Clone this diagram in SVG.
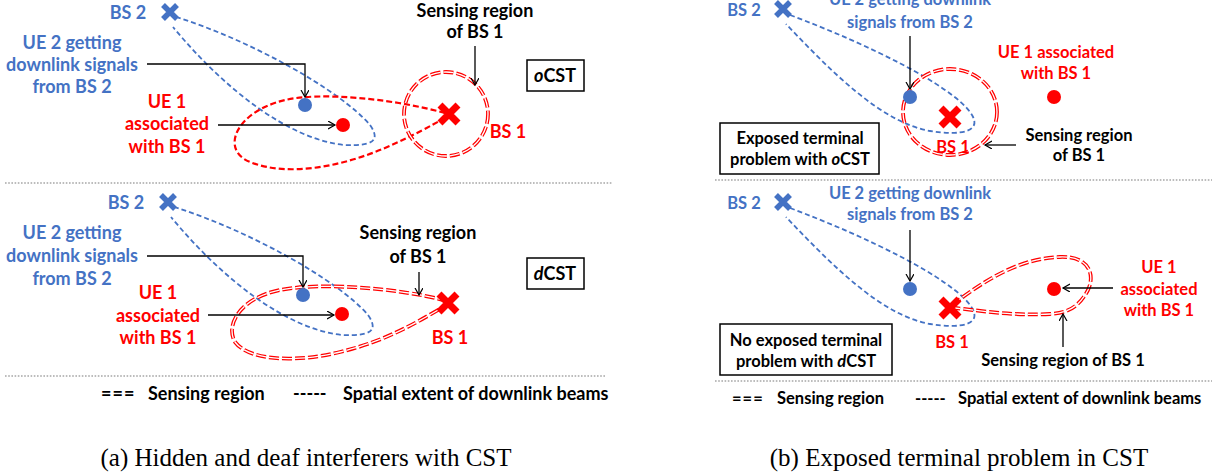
<svg xmlns="http://www.w3.org/2000/svg" width="1223" height="474" viewBox="0 0 1223 474">
<defs>
<style>
.t{font-family:Lato,"Liberation Sans",sans-serif;font-weight:bold;font-size:18px;text-anchor:middle}
.r{font-size:16.5px}
.blue{fill:#4472C4}
.red{fill:#FF0000}
.blk{fill:#000}
.cap{font-family:"Liberation Serif",serif;font-size:25px;fill:#000}
.bl{fill:none;stroke:#4472C4;stroke-width:1.8;stroke-dasharray:5 3}
.rd{fill:none;stroke:#FF0000;stroke-width:2.2;stroke-dasharray:6 3}
.dd{fill:none;stroke:#FF0000;stroke-width:3.8;stroke-dasharray:10 3}
.ddw{fill:none;stroke:#fff;stroke-width:1.3;stroke-dasharray:10 3}
.arr{fill:none;stroke:#000;stroke-width:1.3;marker-end:url(#ah)}
.sep{stroke:#a6a6a6;stroke-width:1.6;stroke-dasharray:1.6 1.6}
.box{fill:#fff;stroke:#000;stroke-width:1.5}
.xb{stroke:#4472C4;stroke-width:5.5;fill:none}
.xr{stroke:#FF0000;stroke-width:7;fill:none}
.st{text-anchor:start}
</style>
<marker id="ah" markerUnits="userSpaceOnUse" markerWidth="10" markerHeight="10" refX="7" refY="4" orient="auto">
<path d="M0,0 L7,4 L0,8" fill="none" stroke="#000" stroke-width="1.2"/>
</marker>
<path id="xb" d="M-7,-7 L7,7 M7,-7 L-7,7"/>
<path id="xr" d="M-9,-9 L9,9 M9,-9 L-9,9"/>
<path id="lobeL" d="M176,17 C 250,40 340,90 370,125 C 382,142 370,146 345,145 C 290,140 225,90 173,27"/>
<path id="lobeR" d="M790,15 C 870,45 950,85 970,112 C 985,132 960,136 930,131 C 880,122 830,70 786,24"/>
</defs>
<rect width="1223" height="474" fill="#fff"/>

<g id="separators">
<line class="sep" x1="5" y1="183" x2="612" y2="183"/>
<line class="sep" x1="5" y1="376" x2="605" y2="376"/>
<line class="sep" x1="715" y1="180" x2="1212" y2="180"/>
<line class="sep" x1="715" y1="381" x2="1212" y2="381"/>
</g>

<g id="connectors">
<use href="#lobeL" class="bl"/>
<use href="#lobeL" class="bl" transform="translate(-2,190)"/>
<use href="#lobeR" class="bl"/>
<use href="#lobeR" class="bl" transform="translate(0,193)"/>
<path class="rd" d="M445,113 C 390,98 320,92 285,100 C 235,112 220,150 250,162 C 290,178 345,165 385,148 C 415,135 432,125 445,118"/>
<circle class="dd" cx="446" cy="114" r="42"/>
<circle class="ddw" cx="446" cy="114" r="42"/>
<path class="dd" d="M447,301 C 400,288 320,282 280,290 C 240,298 225,325 235,342 C 250,362 300,362 340,352 C 390,340 420,320 447,305"/>
<path class="ddw" d="M447,301 C 400,288 320,282 280,290 C 240,298 225,325 235,342 C 250,362 300,362 340,352 C 390,340 420,320 447,305"/>
<ellipse class="dd" cx="950" cy="112" rx="47" ry="43"/>
<ellipse class="ddw" cx="950" cy="112" rx="47" ry="43"/>
<path class="dd" d="M952,305 C 985,280 1020,258 1060,257 C 1090,256 1095,275 1088,290 C 1080,305 1070,313 1050,314 C 1010,316 975,310 955,308"/>
<path class="ddw" d="M952,305 C 985,280 1020,258 1060,257 C 1090,256 1095,275 1088,290 C 1080,305 1070,313 1050,314 C 1010,316 975,310 955,308"/>
<polyline class="arr" points="147,64 305,64 305,97"/>
<line class="arr" x1="218" y1="125" x2="335" y2="125"/>
<line class="arr" x1="475" y1="46" x2="475" y2="85"/>
<polyline class="arr" points="147,256 303,256 303,287"/>
<line class="arr" x1="208" y1="315" x2="334" y2="315"/>
<line class="arr" x1="419" y1="272" x2="419" y2="295"/>
<line class="arr" x1="910" y1="36" x2="910" y2="89"/>
<line class="arr" x1="1016" y1="145" x2="985" y2="145"/>
<line class="arr" x1="910" y1="230" x2="910" y2="281"/>
<line class="arr" x1="1113" y1="288" x2="1063" y2="288"/>
<line class="arr" x1="1063" y1="347" x2="1063" y2="314"/>
</g>

<g id="a-bs2">
<use href="#xb" class="xb" transform="translate(170,12)"/>
<text class="t blue" x="128" y="19">BS 2</text>
</g>
<g id="a-ue2">
<circle cx="305" cy="105" r="7" fill="#4472C4"/>
<text class="t blue" x="72" y="49">UE 2 getting</text>
<text class="t blue" x="72" y="71">downlink signals</text>
<text class="t blue" x="72" y="93">from BS 2</text>
</g>
<g id="a-ue1">
<circle cx="343" cy="125" r="7" fill="#FF0000"/>
<text class="t red" x="167" y="108">UE 1</text>
<text class="t red" x="167" y="130">associated</text>
<text class="t red" x="167" y="153">with BS 1</text>
</g>
<g id="a-bs1">
<use href="#xr" class="xr" transform="translate(449,114)"/>
<text class="t red" x="508" y="138">BS 1</text>
<text class="t blk" x="475" y="17">Sensing region</text>
<text class="t blk" x="475" y="38">of BS 1</text>
</g>
<g id="a-ocst">
<rect class="box" x="527" y="60" width="57" height="31"/>
<text class="t blk" x="555" y="82"><tspan font-style="italic">o</tspan>CST</text>
</g>

<g id="a2-bs2">
<use href="#xb" class="xb" transform="translate(168,202)"/>
<text class="t blue" x="126" y="209">BS 2</text>
</g>
<g id="a2-ue2">
<circle cx="303" cy="295" r="7" fill="#4472C4"/>
<text class="t blue" x="72" y="239">UE 2 getting</text>
<text class="t blue" x="72" y="262">downlink signals</text>
<text class="t blue" x="72" y="285">from BS 2</text>
</g>
<g id="a2-ue1">
<circle cx="342" cy="314" r="7" fill="#FF0000"/>
<text class="t red" x="158" y="299">UE 1</text>
<text class="t red" x="158" y="322">associated</text>
<text class="t red" x="158" y="344">with BS 1</text>
</g>
<g id="a2-bs1">
<use href="#xr" class="xr" transform="translate(448,303)"/>
<text class="t red" x="450" y="344">BS 1</text>
<text class="t blk" x="418" y="239">Sensing region</text>
<text class="t blk" x="418" y="263">of BS 1</text>
</g>
<g id="a2-dcst">
<rect class="box" x="527" y="258" width="57" height="31"/>
<text class="t blk" x="555" y="280"><tspan font-style="italic">d</tspan>CST</text>
</g>
<g id="a-legend">
<text class="t blk st" x="101" y="400" letter-spacing="1">===</text>
<text class="t blk st" x="148" y="400">Sensing region</text>
<text class="t blk st" x="293" y="400">-----</text>
<text class="t blk st" x="343" y="400">Spatial extent of downlink beams</text>
</g>
<text class="cap" x="306" y="466" text-anchor="middle">(a) Hidden and deaf interferers with CST</text>

<g id="b-bs2">
<use href="#xb" class="xb" transform="translate(783,9)"/>
<text class="t r blue" x="744" y="16">BS 2</text>
</g>
<g id="b-ue2">
<circle cx="910" cy="97" r="7" fill="#4472C4"/>
<text class="t r blue" x="910" y="5">UE 2 getting downlink</text>
<text class="t r blue" x="910" y="28">signals from BS 2</text>
</g>
<g id="b-ue1">
<circle cx="1054" cy="97" r="7" fill="#FF0000"/>
<text class="t r red" x="1056" y="58">UE 1 associated</text>
<text class="t r red" x="1056" y="79">with BS 1</text>
</g>
<g id="b-bs1">
<use href="#xr" class="xr" transform="translate(950,117)"/>
<text class="t r red" x="953" y="153">BS 1</text>
<text class="t r blk" x="1079" y="141">Sensing region</text>
<text class="t r blk" x="1079" y="161">of BS 1</text>
</g>
<g id="b-box1">
<rect class="box" x="720" y="123" width="159" height="51"/>
<text class="t r blk" x="800" y="144">Exposed terminal</text>
<text class="t r blk" x="800" y="165">problem with <tspan font-style="italic">o</tspan>CST</text>
</g>

<g id="b2-bs2">
<use href="#xb" class="xb" transform="translate(783,202)"/>
<text class="t r blue" x="744" y="209">BS 2</text>
</g>
<g id="b2-ue2">
<circle cx="910" cy="289" r="7" fill="#4472C4"/>
<text class="t r blue" x="910" y="199">UE 2 getting downlink</text>
<text class="t r blue" x="910" y="220">signals from BS 2</text>
</g>
<g id="b2-ue1">
<circle cx="1054" cy="289" r="7" fill="#FF0000"/>
<text class="t r red" x="1159" y="273">UE 1</text>
<text class="t r red" x="1159" y="295">associated</text>
<text class="t r red" x="1159" y="316">with BS 1</text>
</g>
<g id="b2-bs1">
<use href="#xr" class="xr" transform="translate(950,308)"/>
<text class="t r red" x="952" y="348">BS 1</text>
<text class="t r blk" x="1063" y="366">Sensing region of BS 1</text>
</g>
<g id="b2-box">
<rect class="box" x="720" y="324" width="172" height="51"/>
<text class="t r blk" x="806" y="346">No exposed terminal</text>
<text class="t r blk" x="806" y="367">problem with <tspan font-style="italic">d</tspan>CST</text>
</g>
<g id="b-legend">
<text class="t r blk st" x="732" y="404" letter-spacing="1">===</text>
<text class="t r blk st" x="777" y="404">Sensing region</text>
<text class="t r blk st" x="915" y="404">-----</text>
<text class="t r blk st" x="958" y="404">Spatial extent of downlink beams</text>
</g>
<text class="cap" x="959" y="466" text-anchor="middle">(b) Exposed terminal problem in CST</text>
</svg>
